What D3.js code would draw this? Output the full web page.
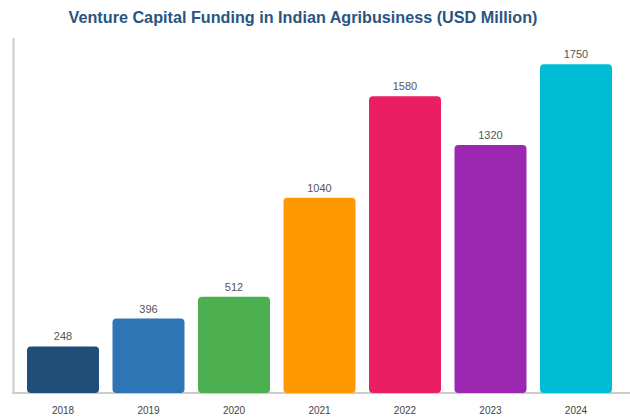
<!DOCTYPE html>
<html>
<head>
<meta charset="utf-8">
<script src="https://cdn.jsdelivr.net/npm/d3@7"></script>
<style>
  html, body { margin: 0; padding: 0; background: #fff; }
  svg { display: block; font-family: "Liberation Sans", Arial, Helvetica, sans-serif; }
</style>
</head>
<body>
<svg id="chart" width="630" height="419"></svg>
<script>
const years = ["2018", "2019", "2020", "2021", "2022", "2023", "2024"];
const funding = [248, 396, 512, 1040, 1580, 1320, 1750];
const barColors = ["#1f4e79", "#2e75b6", "#4caf50", "#ff9800", "#e91e63", "#9c27b0", "#00bcd4"];
const titleText = "Venture Capital Funding in Indian Agribusiness (USD Million)";

(function () {
const svg = d3.select("#chart");
const W = 630, H = 419;
const mLeft = 13.5, mRight = 625.5, mTop = 38, mBottom = 393;

const x = d3.scaleBand().domain(years).range([mLeft, mRight]).paddingInner(0.158).paddingOuter(0.158);
const y = d3.scaleLinear().domain([0, 1750 * 1.08]).range([mBottom, mTop]);

svg.append("text")
  .attr("x", 303).attr("y", 23.3)
  .attr("text-anchor", "middle")
  .attr("font-size", 16.2).attr("font-weight", "bold")
  .attr("fill", "#2a5582")
  .text(titleText);

svg.append("line").attr("x1", 13.5).attr("x2", 13.5).attr("y1", mTop).attr("y2", mBottom + 1)
  .attr("stroke", "#cccccc").attr("stroke-width", 2);
svg.append("line").attr("x1", 12.5).attr("x2", W).attr("y1", mBottom).attr("y2", mBottom)
  .attr("stroke", "#cccccc").attr("stroke-width", 2);

const data = years.map((yr, i) => ({ yr, v: funding[i], c: barColors[i] }));

svg.selectAll("rect.bar").data(data).enter().append("rect")
  .attr("class", "bar")
  .attr("x", d => x(d.yr))
  .attr("width", x.bandwidth())
  .attr("y", d => y(d.v))
  .attr("height", d => mBottom - y(d.v))
  .attr("rx", 4).attr("ry", 4)
  .attr("fill", d => d.c);

svg.selectAll("text.val").data(data).enter().append("text")
  .attr("class", "val")
  .attr("x", d => x(d.yr) + x.bandwidth() / 2)
  .attr("y", d => y(d.v) - 6)
  .attr("text-anchor", "middle")
  .attr("font-size", 11)
  .attr("fill", "#555")
  .text(d => d.v);

const xAxis = svg.append("g").attr("transform", `translate(0,${mBottom})`)
  .call(d3.axisBottom(x).tickSize(0).tickPadding(14));
xAxis.select(".domain").remove();
xAxis.selectAll("text").attr("font-size", 10).attr("fill", "#444")
  .attr("font-family", "\"Liberation Sans\", Arial, sans-serif");
})();
</script>
</body>
</html>
